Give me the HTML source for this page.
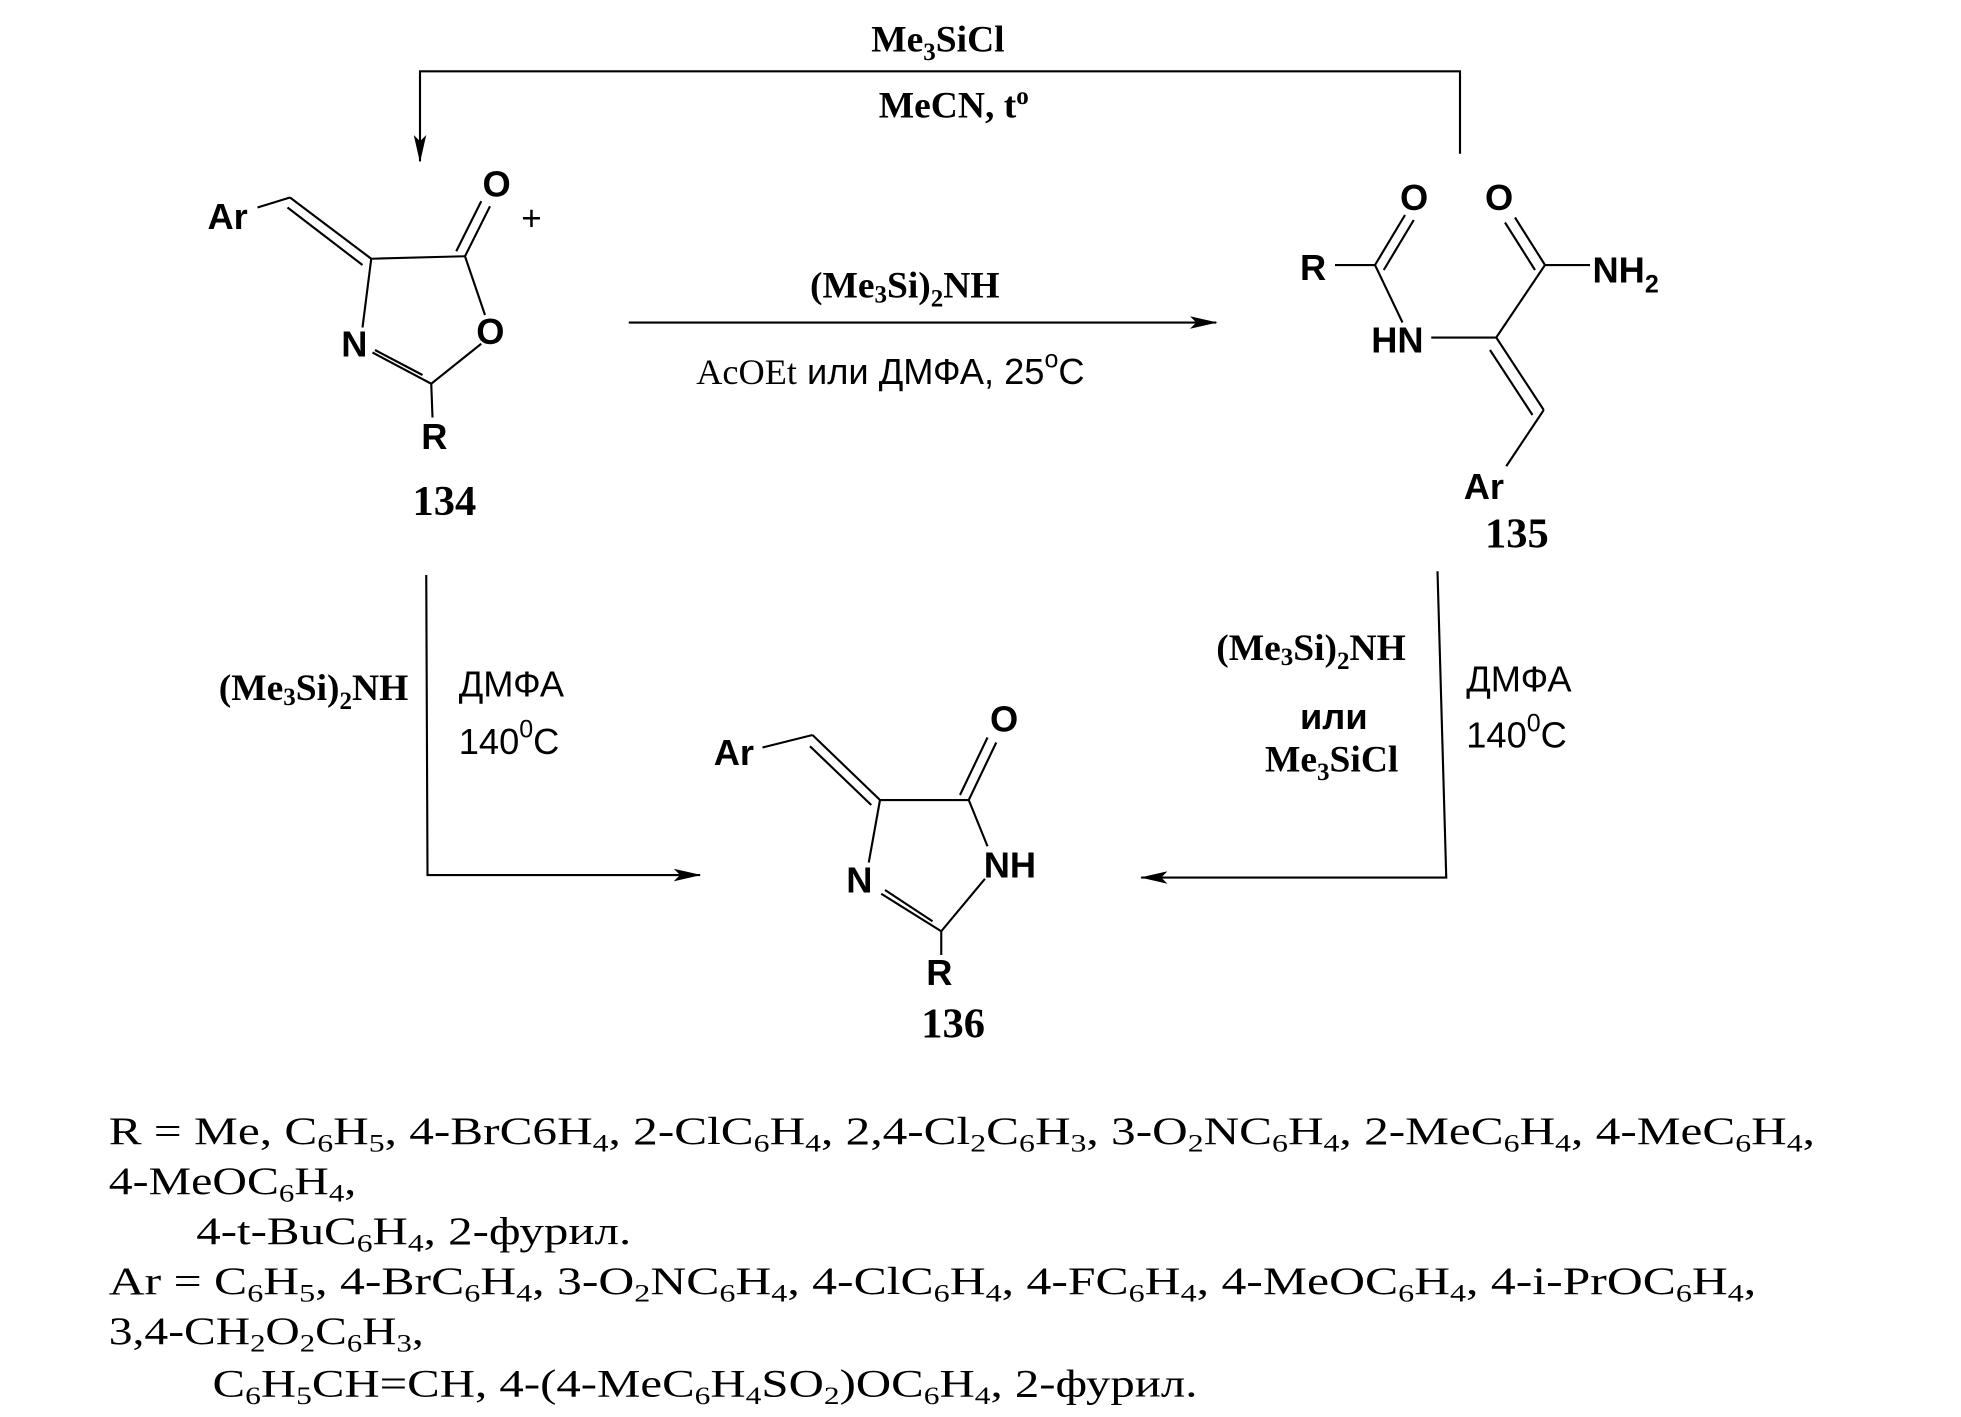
<!DOCTYPE html>
<html><head><meta charset="utf-8"><style>html,body{margin:0;padding:0;background:#fff}svg{display:block}</style></head>
<body>
<svg width="1961" height="1417" viewBox="0 0 1568.8 1133.6" xmlns="http://www.w3.org/2000/svg">
<defs><marker id="ah" markerWidth="22" markerHeight="10" refX="21" refY="5" orient="auto" markerUnits="userSpaceOnUse"><path d="M0,0 L22,5 L0,10 L5,5 Z" fill="#000"/></marker></defs>
<g stroke="#000" stroke-width="1.7" fill="none">
<polyline points="1168,123 1168,57 336,57 336,129" marker-end="url(#ah)"/>
<line x1="503" y1="258" x2="973" y2="258" marker-end="url(#ah)"/>
<polyline points="341,460 342,700 560,700" marker-end="url(#ah)"/>
<polyline points="1150,457 1157,702 913,702" marker-end="url(#ah)"/>
<!-- 134 -->
<line x1="206" y1="166" x2="232" y2="158"/>
<line x1="232" y1="158" x2="297" y2="207"/><line x1="230" y1="166" x2="290" y2="212"/>
<line x1="297" y1="207" x2="372" y2="205"/>
<line x1="372" y1="205" x2="392" y2="165"/><line x1="365" y1="201" x2="385" y2="161"/>
<line x1="372" y1="205" x2="388" y2="252"/>
<line x1="385" y1="275" x2="345" y2="307"/>
<line x1="345" y1="307" x2="298" y2="282"/><line x1="338" y1="300" x2="300" y2="280"/>
<line x1="290" y1="262" x2="297" y2="207"/>
<line x1="345" y1="307" x2="346" y2="334"/>
<!-- 135 -->
<line x1="1068" y1="212" x2="1100" y2="212"/>
<line x1="1100" y1="212" x2="1124" y2="172"/><line x1="1107" y1="216" x2="1131" y2="176"/>
<line x1="1100" y1="212" x2="1122" y2="258"/>
<line x1="1145" y1="270" x2="1197" y2="270"/>
<line x1="1197" y1="270" x2="1236" y2="212"/>
<line x1="1236" y1="212" x2="1212" y2="174"/><line x1="1228" y1="216" x2="1204" y2="178"/>
<line x1="1236" y1="212" x2="1272" y2="212"/>
<line x1="1197" y1="270" x2="1235" y2="328"/><line x1="1192" y1="280" x2="1226" y2="332"/>
<line x1="1235" y1="328" x2="1205" y2="373"/>
<!-- 136 -->
<line x1="610" y1="598" x2="650" y2="588"/>
<line x1="650" y1="588" x2="704" y2="640"/><line x1="648" y1="597" x2="697" y2="644"/>
<line x1="704" y1="640" x2="775" y2="640"/>
<line x1="775" y1="640" x2="797" y2="594"/><line x1="768" y1="636" x2="790" y2="590"/>
<line x1="775" y1="640" x2="790" y2="677"/>
<line x1="788" y1="703" x2="753" y2="745"/>
<line x1="753" y1="745" x2="705" y2="715"/><line x1="746" y1="737" x2="708" y2="712"/>
<line x1="695" y1="690" x2="704" y2="640"/>
<line x1="753" y1="745" x2="753" y2="764"/>
</g>
<g font-family="Liberation Sans, Arial, sans-serif" font-size="29" font-weight="bold" fill="#000">
<text x="166" y="183">Ar</text><text x="386" y="157">O</text><text x="381" y="275">O</text><text x="273" y="285">N</text><text x="337" y="359">R</text>
<text x="1040" y="224">R</text><text x="1120" y="168">O</text><text x="1188" y="168">O</text><text x="1097" y="282">HN</text><text x="1274" y="226">NH<tspan font-size="20" dy="8">2</tspan></text><text x="1171" y="399">Ar</text>
<text x="571" y="612">Ar</text><text x="792" y="585">O</text><text x="787" y="702">NH</text><text x="677" y="714">N</text><text x="741" y="788">R</text>
<text x="1040" y="583">или</text>
</g>
<text x="417" y="184" font-family="Liberation Sans, sans-serif" font-size="28">+</text>
<g font-family="Liberation Serif, serif" font-weight="bold" font-size="34" fill="#000">
<text x="330" y="412">134</text><text x="1188" y="438">135</text><text x="737" y="830">136</text>
</g>
<g font-family="Liberation Serif, serif" font-weight="bold" font-size="30" fill="#000">
<text x="697" y="41">Me<tspan font-size="20" dy="7">3</tspan><tspan dy="-7">SiCl</tspan></text>
<text x="703" y="94">MeCN, t<tspan font-size="20" dy="-11">o</tspan></text>
<text x="648" y="238">(Me<tspan font-size="20" dy="4">3</tspan><tspan dy="-4">Si)</tspan><tspan font-size="20" dy="7">2</tspan><tspan dy="-7">NH</tspan></text>
<text x="175" y="560">(Me<tspan font-size="20" dy="4">3</tspan><tspan dy="-4">Si)</tspan><tspan font-size="20" dy="7">2</tspan><tspan dy="-7">NH</tspan></text>
<text x="973" y="528">(Me<tspan font-size="20" dy="4">3</tspan><tspan dy="-4">Si)</tspan><tspan font-size="20" dy="7">2</tspan><tspan dy="-7">NH</tspan></text>
<text x="1012" y="617">Me<tspan font-size="20" dy="7">3</tspan><tspan dy="-7">SiCl</tspan></text>
</g>
<g font-family="Liberation Sans, sans-serif" font-size="29" fill="#000">
<text x="557" y="307"><tspan font-family="Liberation Serif, serif">AcOEt</tspan> или ДМФА, 25<tspan font-size="20" dy="-13">o</tspan><tspan dy="13">C</tspan></text>
<text x="367" y="557">ДМФА</text>
<text x="367" y="603">140<tspan font-size="20" dy="-13">0</tspan><tspan dy="13">C</tspan></text>
<text x="1173" y="553">ДМФА</text>
<text x="1173" y="598">140<tspan font-size="20" dy="-13">0</tspan><tspan dy="13">C</tspan></text>
</g>
<g font-family="Liberation Serif, serif" font-size="31" fill="#000">
<text x="87" y="915" textLength="1365" lengthAdjust="spacingAndGlyphs">R = Me, C<tspan font-size="20" dy="6">6</tspan><tspan dy="-6">H</tspan><tspan font-size="20" dy="6">5</tspan><tspan dy="-6">, 4-BrC6H</tspan><tspan font-size="20" dy="6">4</tspan><tspan dy="-6">, 2-ClC</tspan><tspan font-size="20" dy="6">6</tspan><tspan dy="-6">H</tspan><tspan font-size="20" dy="6">4</tspan><tspan dy="-6">, 2,4-Cl</tspan><tspan font-size="20" dy="6">2</tspan><tspan dy="-6">C</tspan><tspan font-size="20" dy="6">6</tspan><tspan dy="-6">H</tspan><tspan font-size="20" dy="6">3</tspan><tspan dy="-6">, 3-O</tspan><tspan font-size="20" dy="6">2</tspan><tspan dy="-6">NC</tspan><tspan font-size="20" dy="6">6</tspan><tspan dy="-6">H</tspan><tspan font-size="20" dy="6">4</tspan><tspan dy="-6">, 2-MeC</tspan><tspan font-size="20" dy="6">6</tspan><tspan dy="-6">H</tspan><tspan font-size="20" dy="6">4</tspan><tspan dy="-6">, 4-MeC</tspan><tspan font-size="20" dy="6">6</tspan><tspan dy="-6">H</tspan><tspan font-size="20" dy="6">4</tspan><tspan dy="-6">,</tspan></text>
<text x="87" y="955" textLength="198" lengthAdjust="spacingAndGlyphs">4-MeOC<tspan font-size="20" dy="6">6</tspan><tspan dy="-6">H</tspan><tspan font-size="20" dy="6">4</tspan><tspan dy="-6">,</tspan></text>
<text x="157" y="995" textLength="348" lengthAdjust="spacingAndGlyphs">4-t-BuC<tspan font-size="20" dy="6">6</tspan><tspan dy="-6">H</tspan><tspan font-size="20" dy="6">4</tspan><tspan dy="-6">, 2-фурил.</tspan></text>
<text x="87" y="1035" textLength="1318" lengthAdjust="spacingAndGlyphs">Ar = C<tspan font-size="20" dy="6">6</tspan><tspan dy="-6">H</tspan><tspan font-size="20" dy="6">5</tspan><tspan dy="-6">, 4-BrC</tspan><tspan font-size="20" dy="6">6</tspan><tspan dy="-6">H</tspan><tspan font-size="20" dy="6">4</tspan><tspan dy="-6">, 3-O</tspan><tspan font-size="20" dy="6">2</tspan><tspan dy="-6">NC</tspan><tspan font-size="20" dy="6">6</tspan><tspan dy="-6">H</tspan><tspan font-size="20" dy="6">4</tspan><tspan dy="-6">, 4-ClC</tspan><tspan font-size="20" dy="6">6</tspan><tspan dy="-6">H</tspan><tspan font-size="20" dy="6">4</tspan><tspan dy="-6">,  4-FC</tspan><tspan font-size="20" dy="6">6</tspan><tspan dy="-6">H</tspan><tspan font-size="20" dy="6">4</tspan><tspan dy="-6">, 4-MeOC</tspan><tspan font-size="20" dy="6">6</tspan><tspan dy="-6">H</tspan><tspan font-size="20" dy="6">4</tspan><tspan dy="-6">, 4-i-PrOC</tspan><tspan font-size="20" dy="6">6</tspan><tspan dy="-6">H</tspan><tspan font-size="20" dy="6">4</tspan><tspan dy="-6">,</tspan></text>
<text x="87" y="1075" textLength="252" lengthAdjust="spacingAndGlyphs">3,4-CH<tspan font-size="20" dy="6">2</tspan><tspan dy="-6">O</tspan><tspan font-size="20" dy="6">2</tspan><tspan dy="-6">C</tspan><tspan font-size="20" dy="6">6</tspan><tspan dy="-6">H</tspan><tspan font-size="20" dy="6">3</tspan><tspan dy="-6">,</tspan></text>
<text x="170" y="1117" textLength="788" lengthAdjust="spacingAndGlyphs">C<tspan font-size="20" dy="6">6</tspan><tspan dy="-6">H</tspan><tspan font-size="20" dy="6">5</tspan><tspan dy="-6">CH=CH, 4-(4-MeC</tspan><tspan font-size="20" dy="6">6</tspan><tspan dy="-6">H</tspan><tspan font-size="20" dy="6">4</tspan><tspan dy="-6">SO</tspan><tspan font-size="20" dy="6">2</tspan><tspan dy="-6">)OC</tspan><tspan font-size="20" dy="6">6</tspan><tspan dy="-6">H</tspan><tspan font-size="20" dy="6">4</tspan><tspan dy="-6">, 2-фурил.</tspan></text>
</g>
</svg>
</body></html>
